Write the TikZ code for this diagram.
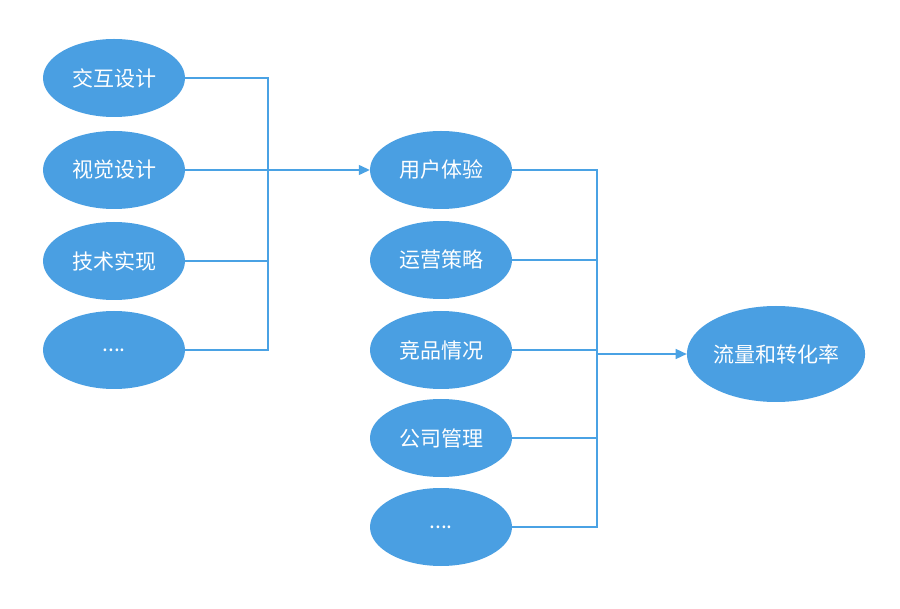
\documentclass[tikz,border=0pt]{standalone}
\usepackage{fontspec}
\newfontfamily\cjk{Noto Sans CJK SC}
\usetikzlibrary{arrows.meta,shapes.geometric}
\definecolor{blob}{HTML}{4A9FE2}
\definecolor{wire}{HTML}{4AA2E4}
\tikzset{>={Triangle[length=11pt,width=10pt]},
	oval/.style={ellipse,fill=blob,minimum width=142pt,minimum height=78pt,inner sep=0pt,text=white,font=\cjk\fontsize{21}{25}\selectfont},
	bigoval/.style={oval,minimum width=168pt,minimum height=96pt},
	wire/.style={draw=wire,line width=1.3pt}}
\begin{document}
\begin{tikzpicture}[x=1pt,y=-1pt]
	\useasboundingbox[fill=white] (0,0) rectangle (900,609);
	\node (a1) at (114,78) [oval] {交互设计};
	\node (a2) at (114,170) [oval] {视觉设计};
	\node (a3) at (114,261) [oval] {技术实现};
	\node (a4) at (114,350) [oval] {....};
	\node (b1) at (441,170) [oval] {用户体验};
	\node (b2) at (441,260) [oval] {运营策略};
	\node (b3) at (441,350) [oval] {竞品情况};
	\node (b4) at (441,438) [oval] {公司管理};
	\node (b5) at (441,527) [oval] {....};
	\node (c) at (776,354) [bigoval] {流量和转化率};
	\coordinate (ja) at (268,170);
	\coordinate (jb) at (597,354);
	\draw [wire] (a1) -| (ja);
	\draw [wire] (a2) -- (ja);
	\draw [wire] (a3) -| (ja);
	\draw [wire] (a4) -| (ja);
	\draw [wire,->,fill=wire] (ja) -- (b1);
	\draw [wire] (b1) -| (jb);
	\draw [wire] (b2) -| (jb);
	\draw [wire] (b3) -| (jb);
	\draw [wire] (b4) -| (jb);
	\draw [wire] (b5) -| (jb);
	\draw [wire,->,fill=wire] (jb) -- (c);
\end{tikzpicture}
\end{document}
